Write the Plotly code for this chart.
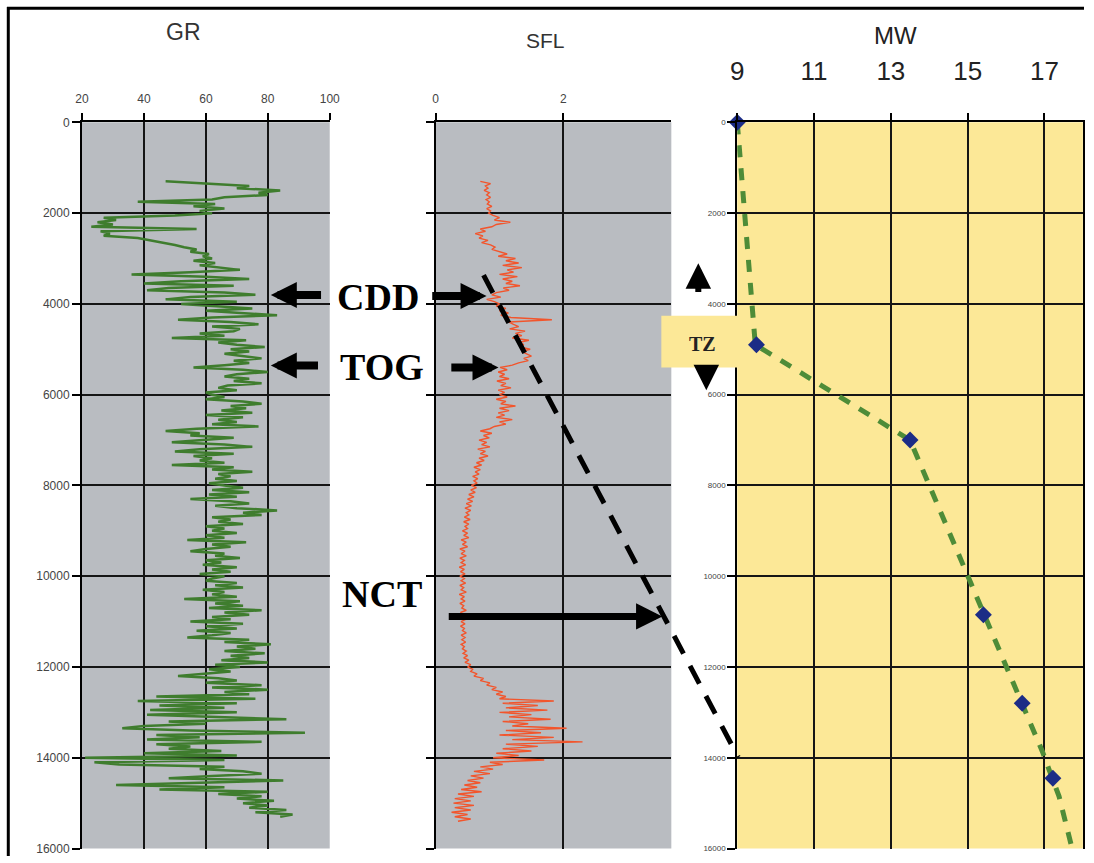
import plotly.graph_objects as go

# ---------------- data ----------------
depth_ticks = [0, 2000, 4000, 6000, 8000, 10000, 12000, 14000, 16000]
depth_labels = ["0", "2000", "4000", "6000", "8000", "10000", "12000", "14000", "16000"]
depth_grid = [2000, 4000, 6000, 8000, 10000, 12000, 14000]

gr_ticks = [20, 40, 60, 80, 100]
sfl_ticks = [0, 2]
mw_ticks = [9, 11, 13, 15, 17]

# GR log, sampled every 50 ft from 1300 ft
gr_top, gr_step = 1300, 50
gr_values = [
    47, 62, 74, 70, 84, 77, 80, 66, 62, 38, 63, 56, 66, 58,
    62, 50, 27, 31, 25, 30, 23, 57, 26, 29, 27, 38, 42, 47, 50, 53, 57, 55, 61, 59,
    62, 56, 63, 58, 64, 71, 55, 36, 60, 74, 52, 40, 69, 48, 41, 66, 76, 55, 47, 70,
    52, 64, 75, 60, 70, 83, 62, 51, 68, 77, 62, 71, 69, 58, 66, 49, 73, 64, 70, 79,
    68, 74, 66, 72, 78, 69, 74, 66, 56, 72, 80, 70, 66, 74, 69, 78, 67, 64, 70, 60,
    62, 66, 60, 72, 78, 68, 73, 65, 75, 60, 72, 64, 70, 62, 77, 57, 47, 58, 55, 69,
    60, 49, 66, 75, 58, 50, 69, 56, 62, 58, 66, 49, 69, 62, 75, 64, 68, 63, 70, 61,
    66, 72, 62, 74, 61, 70, 55, 68, 74, 63, 70, 83, 72, 78, 62, 68, 64, 72, 60, 66,
    62, 70, 60, 66, 54, 73, 62, 68, 60, 55, 66, 63, 71, 60, 65, 59, 70, 62, 68, 58,
    66, 62, 60, 70, 63, 72, 59, 66, 62, 70, 53, 71, 63, 72, 61, 78, 66, 74, 62, 68,
    55, 72, 60, 70, 57, 68, 62, 54, 74, 66, 81, 70, 76, 66, 79, 68, 74, 65, 80, 63,
    71, 61, 68, 58, 51, 64, 70, 60, 78, 62, 80, 66, 74, 44, 76, 38, 70, 45, 66, 42,
    70, 41, 64, 86, 48, 60, 40, 33, 55, 92, 44, 58, 41, 78, 44, 55, 48, 65, 40, 70,
    21, 66, 24, 32, 66, 58, 72, 78, 62, 48, 85, 60, 31, 66, 45, 80, 64, 78, 70, 82,
    72, 80, 74, 86, 76, 88, 84,
]

# SFL log, sampled every 50 ft from 1300 ft
sfl_top, sfl_step = 1300, 50
sfl_values = [
    0.70, 0.86, 0.78, 0.82, 0.76, 0.84, 0.80, 0.86, 0.79, 0.84, 0.81, 0.88, 0.80, 0.86,
    0.83, 0.90, 1.00, 0.92, 1.17, 0.95, 0.88, 0.70, 0.78, 0.62, 0.74, 0.68, 0.82, 0.72, 0.86, 0.93, 0.88, 1.00, 1.12, 0.98,
    1.25, 1.10, 1.30, 1.05, 1.35, 1.12, 1.22, 1.00, 1.28, 1.05, 1.20, 1.10, 1.32, 1.06, 1.15, 0.95, 0.88, 1.02, 0.80, 0.92,
    1.00, 0.95, 1.10, 1.00, 1.14, 1.02, 1.18, 1.82, 1.15, 1.22, 1.30, 1.16, 1.40, 1.25, 1.35, 1.20, 1.46, 1.30, 1.38, 1.32,
    1.48, 1.35, 1.42, 1.50, 1.38, 1.45, 1.30, 1.20, 1.01, 1.12, 0.98, 1.08, 1.00, 1.15, 0.96, 1.10, 1.02, 1.18, 0.98, 1.08,
    1.00, 1.12, 0.95, 1.10, 1.02, 1.25, 1.00, 1.15, 0.98, 1.08, 0.95, 1.20, 1.00, 1.10, 0.92, 0.85, 0.70, 0.88, 0.75, 0.84,
    0.68, 0.80, 0.72, 0.85, 0.66, 0.78, 0.70, 0.82, 0.68, 0.76, 0.64, 0.72, 0.60, 0.70, 0.62, 0.68, 0.58, 0.66, 0.60, 0.65,
    0.56, 0.64, 0.55, 0.62, 0.52, 0.60, 0.50, 0.58, 0.48, 0.56, 0.46, 0.55, 0.48, 0.52, 0.45, 0.54, 0.44, 0.52, 0.46, 0.50,
    0.42, 0.50, 0.44, 0.52, 0.40, 0.48, 0.42, 0.50, 0.38, 0.46, 0.40, 0.48, 0.38, 0.45, 0.40, 0.47, 0.37, 0.45, 0.39, 0.46,
    0.38, 0.45, 0.40, 0.47, 0.38, 0.44, 0.40, 0.48, 0.37, 0.45, 0.40, 0.46, 0.38, 0.44, 0.41, 0.48, 0.39, 0.45, 0.40, 0.47,
    0.40, 0.46, 0.39, 0.45, 0.42, 0.48, 0.40, 0.46, 0.41, 0.47, 0.40, 0.45, 0.42, 0.48, 0.43, 0.50, 0.44, 0.52, 0.46, 0.55,
    0.50, 0.58, 0.55, 0.65, 0.60, 0.75, 0.70, 0.85, 0.80, 0.95, 0.88, 1.05, 0.95, 1.10, 1.00, 1.85, 1.05, 1.60, 1.10, 1.75,
    1.00, 1.50, 1.15, 1.80, 1.05, 1.45, 1.20, 2.05, 1.10, 1.65, 1.00, 1.85, 1.20, 2.30, 1.10, 1.60, 1.05, 1.50, 0.95, 1.30,
    0.90, 1.70, 0.85, 1.05, 0.70, 0.90, 0.60, 0.85, 0.55, 0.75, 0.50, 0.70, 0.45, 0.65, 0.40, 0.72, 0.35, 0.60, 0.30, 0.55,
    0.28, 0.60, 0.30, 0.55, 0.25, 0.50, 0.30, 0.55, 0.35,
]

gr_depth = [gr_top + gr_step * i for i in range(len(gr_values))]
sfl_depth = [sfl_top + sfl_step * i for i in range(len(sfl_values))]

# Mud weight points and trend
mw_depth = [0, 4900, 7000, 10850, 12800, 14450]
mw_values = [9.0, 9.5, 13.5, 15.41, 16.42, 17.22]
mw_trend_depth = [0, 4900, 7000, 10000, 12000, 13850, 14850, 16000]
mw_trend = [9.0, 9.47, 13.5, 15.0, 15.98, 16.94, 17.38, 17.72]

# ---------------- figure ----------------
# Positions are given in pixels of the final 1094x863 picture and converted
# (measured page offset / scale) into figure fractions.
FW, FH = 1094, 863
SX, OX = 0.9856, 7.9
SY, OY = 0.9917, 6.7


def px(x):
    return min(1.0, max(0.0, ((x - OX) / SX) / FW))


def py(y):
    return min(1.0, max(0.0, 1 - ((y - OY) / SY) / FH))


ydom = [py(855), py(123)]

fig = go.Figure()
fig.add_trace(go.Scatter(x=gr_values, y=gr_depth, mode="lines",
                         line=dict(color="#3f7d2e", width=2.5),
                         xaxis="x", yaxis="y", hoverinfo="skip"))
fig.add_trace(go.Scatter(x=sfl_values, y=sfl_depth, mode="lines",
                         line=dict(color="#f2552c", width=1.4),
                         xaxis="x2", yaxis="y2", hoverinfo="skip"))
fig.add_trace(go.Scatter(x=mw_trend, y=mw_trend_depth, mode="lines",
                         line=dict(color="#4e8c38", width=5, dash="12px,11px"),
                         xaxis="x3", yaxis="y3", hoverinfo="skip"))
fig.add_trace(go.Scatter(x=mw_values, y=mw_depth, mode="markers",
                         marker=dict(symbol="diamond", size=13, color="#1c2c86"),
                         xaxis="x3", yaxis="y3", cliponaxis=False, hoverinfo="skip"))

small_font = dict(family="Liberation Sans, Arial", size=12, color="#444")
narrow_font = dict(family="Liberation Sans Narrow, Arial Narrow, Liberation Sans, Arial", size=26, color="#222")
grid = dict(showgrid=True, gridcolor="#151515", gridwidth=1.8, ticks="")


def xax(domain, rng, ticks, gridvals, font, standoff, anchor):
    return dict(domain=domain, range=rng, side="top", anchor=anchor,
                showline=True, linecolor="black", linewidth=2,
                ticks="outside", ticklen=7, tickwidth=1.5, tickcolor="black",
                tickmode="array", tickvals=ticks, ticktext=[str(t) for t in ticks],
                tickfont=font, ticklabelstandoff=standoff,
                showgrid=False, zeroline=False,
                minor=dict(tickmode="array", tickvals=gridvals, **grid))


def yax(anchor, labels, font):
    return dict(domain=ydom, range=[16000, 0], anchor=anchor,
                showline=True, linecolor="black", linewidth=2,
                ticks="outside", ticklen=8, tickwidth=1.5, tickcolor="black",
                tickmode="array", tickvals=depth_ticks, ticktext=depth_labels,
                showticklabels=labels, tickfont=font,
                showgrid=False, zeroline=False,
                minor=dict(tickmode="array", tickvals=depth_grid, **grid))


fig.update_layout(
    width=FW, height=FH, margin=dict(l=0, r=0, t=0, b=0),
    paper_bgcolor="white", plot_bgcolor="white", showlegend=False,
    xaxis=xax([px(83), px(331)], [20, 100], gr_ticks, [40, 60, 80], small_font, 6, "y"),
    xaxis2=xax([px(437), px(673)], [0, 3.69], sfl_ticks, [2], small_font, 6, "y2"),
    xaxis3=xax([px(739), px(1085)], [9, 18], mw_ticks, [11, 13, 15, 17], narrow_font, 23, "y3"),
    yaxis=yax("x", True, dict(family="Liberation Sans, Arial", size=12, color="#444")),
    yaxis2=yax("x2", False, small_font),
    yaxis3=yax("x3", True, dict(family="Liberation Sans, Arial", size=8, color="#444")),
)
fig.update_layout(yaxis3=dict(mirror=True))

shapes = []
# panel backgrounds
for xr, yr, col in [("x", "y", "#b9bcc1"), ("x2", "y2", "#b9bcc1"), ("x3", "y3", "#fce897")]:
    shapes.append(dict(type="rect", xref=xr + " domain", yref=yr + " domain",
                       x0=0, x1=1, y0=0, y1=1, fillcolor=col, line=dict(width=0), layer="below"))
# NCT dashed trend line across panels
shapes.append(dict(type="line", xref="paper", yref="paper",
                   x0=px(485), y0=py(277), x1=px(740), y1=py(763),
                   line=dict(color="black", width=5, dash="20px,14px"), layer="above"))
# TZ box
shapes.append(dict(type="rect", xref="paper", yref="paper",
                   x0=px(663), x1=px(740), y0=py(370), y1=py(318),
                   fillcolor="#fce897", line=dict(width=0), layer="above"))
# outer frame (left and top edges, kept inside the figure)
shapes.append(dict(type="line", xref="paper", yref="paper", x0=0.0012, x1=0.0012, y0=0, y1=1,
                   line=dict(color="black", width=3), layer="above"))
shapes.append(dict(type="line", xref="paper", yref="paper", x0=0, x1=1, y0=0.9985, y1=0.9985,
                   line=dict(color="black", width=3), layer="above"))
fig.update_layout(shapes=shapes)

ann = []
ann.append(dict(text="GR", x=px(185), y=py(32), xref="paper", yref="paper", showarrow=False,
                xanchor="center", yanchor="middle",
                font=dict(family="Liberation Sans, Arial", size=23, color="#333")))
ann.append(dict(text="SFL", x=px(547), y=py(40), xref="paper", yref="paper", showarrow=False,
                xanchor="center", yanchor="middle",
                font=dict(family="Liberation Sans, Arial", size=21, color="#333")))
ann.append(dict(text="MW", x=px(897), y=py(35), xref="paper", yref="paper", showarrow=False,
                xanchor="center", yanchor="middle",
                font=dict(family="Liberation Sans Narrow, Arial Narrow, Liberation Sans, Arial", size=24, color="#222")))

serif = dict(family="Liberation Serif, Times New Roman, serif", size=38, color="black")
ann.append(dict(text="<b>CDD</b>", x=px(379), y=py(299), xref="paper", yref="paper", showarrow=False, font=serif))
ann.append(dict(text="<b>TOG</b>", x=px(383), y=py(370), xref="paper", yref="paper", showarrow=False, font=serif))
ann.append(dict(text="<b>NCT</b>", x=px(383), y=py(622), xref="paper", yref="paper", showarrow=False, font=serif))
ann.append(dict(text="<b>TZ</b>", x=px(704), y=py(346), xref="paper", yref="paper", showarrow=False,
                font=dict(family="Liberation Serif, Times New Roman, serif", size=20, color="#222")))

arrows = [
    (272, 297, 51, 0, 8, 0.65), (488, 298, -55, 0, 8, 0.65),
    (272, 368, 48, 0, 8, 0.65), (500, 370, -48, 0, 8, 0.65),
    (664, 621, -212, 0, 7, 0.75),
    (700, 265, 0, 30, 6, 0.85), (708, 393, 0, -21, 6, 0.85),
]
for x, y, ax, ay, w, s in arrows:
    ann.append(dict(text="", x=px(x), y=py(y), xref="paper", yref="paper",
                    showarrow=True, ax=ax / SX, ay=ay / SY, arrowhead=2, arrowsize=s,
                    arrowwidth=w, arrowcolor="black", standoff=0, startstandoff=0))
fig.update_layout(annotations=ann)

fig.write_html("out.html")
